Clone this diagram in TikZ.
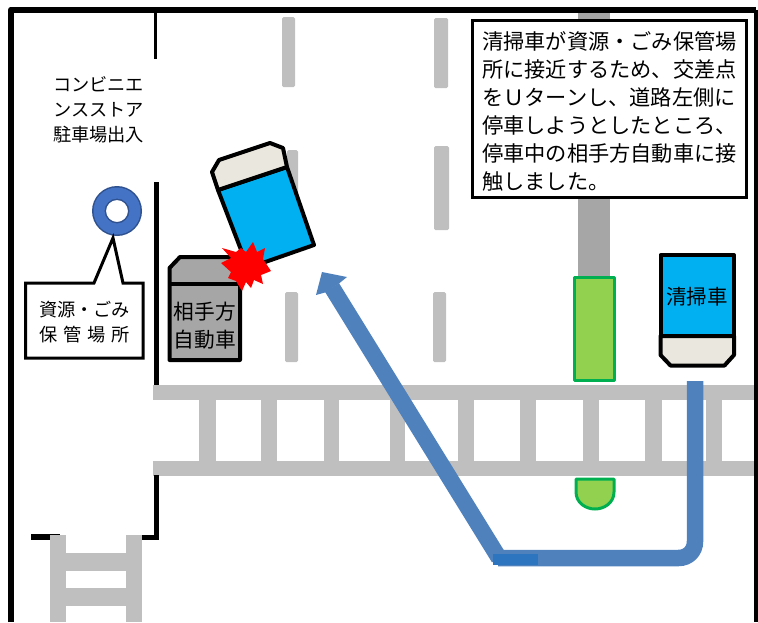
\documentclass[tikz,border=0pt]{standalone}
\usepackage{fontspec}
\setmainfont{Noto Sans CJK JP}
\usetikzlibrary{shapes.geometric,arrows.meta}
\definecolor{markgray}{HTML}{BFBFBF}
\definecolor{darkgray}{HTML}{A6A6A6}
\definecolor{islegreen}{HTML}{92D050}
\definecolor{isleedge}{HTML}{00B050}
\definecolor{truckblue}{HTML}{00B0F0}
\definecolor{cabcream}{HTML}{EAE8DE}
\definecolor{routeblue}{HTML}{4F81BD}
\definecolor{routedeep}{HTML}{2E75C0}
\definecolor{ringfill}{HTML}{4472C4}
\definecolor{ringedge}{HTML}{2F528F}
\tikzset{
  markbar/.style={fill=markgray,draw=none},
  curb/.style={draw=black,line join=miter},
  isle/.style={fill=islegreen,draw=isleedge,line width=3pt,line join=round},
  vehicle/.style={draw=black,line width=4pt,line join=round},
  route/.style={draw=routeblue,line width=16.5pt},
  label/.style={text=black,inner sep=0pt,align=center},
}
\begin{document}
\begin{tikzpicture}[x=1pt,y=-1pt]
\useasboundingbox (0,0) rectangle (758,622);
% lane dashes
\foreach \xa/\ya/\xb/\yb in {282/17/295/87, 287/150/298/235, 285/292/298/362, 434/18/448/88, 434/146/449/230, 433/292/446/362}
  \fill[markbar,rounded corners=1.5pt] (\xa,\ya) rectangle (\xb,\yb);
% median
\fill[darkgray] (578,12) rectangle (610,276);
% crosswalk
\fill[markbar] (153,385) rectangle (756,400);
\fill[markbar] (153,461) rectangle (756,476);
\foreach \xa/\xb in {199/216, 261/277, 324/339, 390/405, 458/474, 520/536, 583/599, 645/662, 706/722}
  \fill[markbar] (\xa,399) rectangle (\xb,462);
% curbs
\draw[curb,line width=3pt] (155,12) -- (155,59);
\draw[curb,line width=5pt] (156,182) -- (156,385);
\draw[curb,line width=5pt] (156,475) -- (156,537) -- (130,537);
\draw[curb,line width=6pt] (31,537) -- (60,537);
% side crosswalk
\fill[markbar] (50,535) rectangle (66,622);
\fill[markbar] (126,535) rectangle (142,622);
\fill[markbar] (65,553) rectangle (127,571);
\fill[markbar] (65,588) rectangle (127,606);
% frame
\draw[line width=6pt,line join=round] (11,622) -- (11,9.5) -- (756,9.5);
\draw[line width=3.5pt] (756,9.5) -- (756,622);
% islands
\draw[isle] (574.5,277) rectangle (614.5,380);
\draw[isle] (576,479) -- (614,479) -- (614,492) .. controls (614,503) and (604,509) .. (595,509) .. controls (586,509) and (576,503) .. (576,492) -- cycle;
% route
\coordinate (routeStart) at (695,381);
\coordinate (routeTurn) at (498,558);
\coordinate (routeNeck) at (332,287.5);
\draw[route] (routeStart) -- (695,541.5) .. controls (695,551) and (688,558) .. (678.5,558) -- (routeTurn);
\draw[route] (499,558) -- (routeNeck);
\fill[routeblue] (322,272) -- (347,277) -- (339,283.5) -- (325,292.5) -- (316,295) -- cycle;
\fill[routedeep] (493,554) rectangle (538,565);
% ring and callout
\fill[ringedge,even odd rule] (117,211) circle[radius=25] (117,211) circle[radius=11];
\fill[ringfill,even odd rule] (117,211) circle[radius=23.5] (117,211) circle[radius=12.5];
\draw[fill=white,line width=3pt,line join=miter] (25.5,283) -- (94,283) -- (113,238) -- (123,283) -- (143,283) -- (143,358) -- (25.5,358) -- cycle;
\node[label,font=\fontsize{18.2}{25}\selectfont] (binLabel) at (84.5,322.5) {資源・ごみ\\\hbox to 91pt{保\hfil 管\hfil 場\hfil 所}};
\node[label,font=\fontsize{18.2}{25}\selectfont] (entrance) at (98.5,110) {コンビニエ\\ンスストア\\駐車場出入};
% other vehicle
\draw[vehicle,fill=darkgray] (169.5,268) -- (180,257) -- (240,257) -- (240,360) -- (169.5,360) -- cycle;
\draw[vehicle] (169.5,284) -- (240,284);
\node[label,font=\fontsize{20.7}{28}\selectfont] (other) at (205,326) {相手方\\自動車};
% rotated truck
\draw[vehicle,fill=truckblue] (218,190) -- (287,167) -- (314,245) -- (248,268) -- cycle;
\draw[vehicle,fill=cabcream] (287,167) -- (283,148) -- (270,143) -- (219,160) -- (212,172) -- (218,190) -- cycle;
% impact
\fill[red] (253,242) -- (257,252) -- (265,248) -- (263,259) -- (271,271) -- (261,275) -- (263,284) -- (254,280) -- (251,288) -- (246,282) -- (242,291) -- (236,281) -- (228,278) -- (231,272) -- (221,263) -- (231,258) -- (222,248) -- (236,252) -- (241,248) -- (246,252) -- cycle;
% sweeper
\draw[vehicle,fill=truckblue] (660.5,255) rectangle (734,336);
\draw[vehicle,fill=cabcream] (660.5,336) -- (734,336) -- (734,355) -- (724.5,365.5) -- (670.5,365.5) -- (660.5,355) -- cycle;
\node[label,font=\fontsize{20.5}{24}\selectfont] (sweeper) at (697,297) {清掃車};
% explanation
\node[draw=black,line width=3pt,fill=white,anchor=north west,inner sep=0pt,minimum width=274pt,minimum height=177pt,align=left,font=\fontsize{21.2}{27.9}\selectfont] (note) at (471,19) {\rule{0pt}{23pt}清掃車が資源・ごみ保管場\\所に接近するため、交差点\\を\symbol{"FF35}ターンし、道路左側に\\停車しようとしたところ、\\停車中の相手方自動車に接\\触しました。\hspace{131.2pt}};
\end{tikzpicture}
\end{document}
